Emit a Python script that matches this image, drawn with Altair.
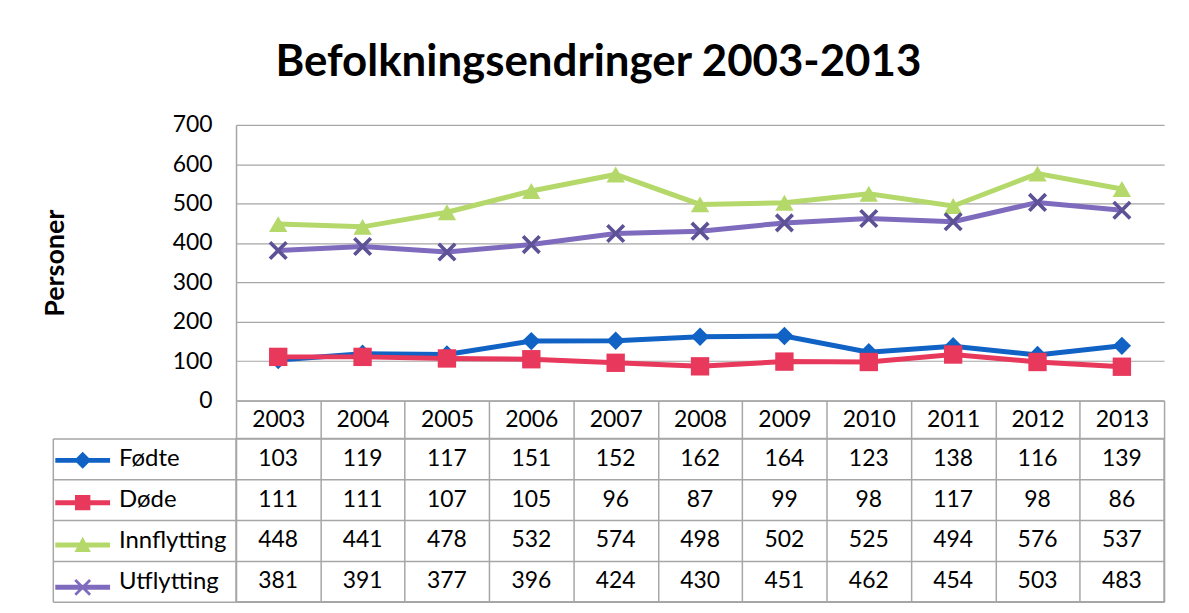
import altair as alt
import pandas as pd

# ---------------- data ----------------
years = ["2003", "2004", "2005", "2006", "2007", "2008", "2009", "2010", "2011", "2012", "2013"]
series = ["Fødte", "Døde", "Innflytting", "Utflytting"]
fodte = [103, 119, 117, 151, 152, 162, 164, 123, 138, 116, 139]
dode = [111, 111, 107, 105, 96, 87, 99, 98, 117, 98, 86]
innflytting = [448, 441, 478, 532, 574, 498, 502, 525, 494, 576, 537]
utflytting = [381, 391, 377, 396, 424, 430, 451, 462, 454, 503, 483]
y_ticks = [0, 100, 200, 300, 400, 500, 600, 700]

rows = []
for s, vals in zip(series, [fodte, dode, innflytting, utflytting]):
    for yr, v in zip(years, vals):
        rows.append({"År": yr, "Serie": s, "Personer": v})
df = pd.DataFrame(rows)

# ---------------- style ----------------
FONT = "Lato"
GRID = "#A6A6A6"
FS = 23
colors = ["#1062C4", "#E8385C", "#B5D86A", "#7F6BBE"]
point_colors = ["#1062C4", "#E8385C", "#B5D86A", "#5E5296"]


def x_path(a, t):
    k = t / 2 ** 0.5
    p = [(-a + k, -a - k), (a + k, a - k), (a - k, a + k), (-a - k, -a + k)]
    q = [(-a + k, a + k), (-a - k, a - k), (a - k, -a - k), (a + k, -a + k)]
    f = lambda pts: "M" + "L".join(f"{x:.3f},{y:.3f}" for x, y in pts) + "Z"
    return f(p) + f(q)


LINE = "M-1,-0.09H1V0.09H-1Z"
legend_paths = [
    LINE + "M0,-0.31L0.31,0L0,0.31L-0.31,0Z",
    LINE + "M-0.28,-0.28H0.28V0.28H-0.28Z",
    LINE + "M0,-0.3L0.3,0.26L-0.3,0.26Z",
    LINE + x_path(0.27, 0.05),
]
point_shapes = ["diamond", "square", "triangle-up", x_path(0.9, 0.2)]

# ---------------- top: line chart ----------------
x_top = alt.X(
    "År:O",
    scale=alt.Scale(type="band", paddingInner=0, paddingOuter=0),
    axis=alt.Axis(
        title=None, orient="bottom", tickBand="extent", ticks=True, tickSize=38,
        tickColor=GRID, tickWidth=1.5, domain=True, domainColor=GRID, domainWidth=1.5,
        labelFont=FONT, labelFontSize=FS, labelColor="black", labelBaseline="middle",
        labelPadding=-19, labelAngle=0, grid=False,
    ),
)
y_top = alt.Y(
    "Personer:Q",
    scale=alt.Scale(domain=[0, 700], nice=False),
    axis=alt.Axis(
        values=y_ticks, title="Personer", titleFont=FONT, titleFontSize=27,
        titleFontWeight="bold", titleColor="black", titlePadding=103,
        labelFont=FONT, labelFontSize=FS, labelColor="black", labelPadding=24,
        ticks=False, domain=True, domainColor=GRID, domainWidth=1.5,
        grid=True, gridColor=GRID, gridWidth=1.2,
    ),
)
base_top = alt.Chart(df)
lines = base_top.mark_line(strokeWidth=5).encode(
    x=x_top, y=y_top,
    color=alt.Color("Serie:N", scale=alt.Scale(domain=series, range=colors), legend=None),
)
points = base_top.mark_point(filled=True, size=340, opacity=1).encode(
    x=x_top, y=y_top,
    color=alt.Color("Serie:N", scale=alt.Scale(domain=series, range=point_colors), legend=None),
    shape=alt.Shape("Serie:N", scale=alt.Scale(domain=series, range=point_shapes), legend=None),
)
top = alt.layer(lines, points).resolve_scale(color="independent").properties(
    width=932, height=277, view=alt.ViewBackground(stroke="transparent")
)

# ---------------- bottom: data table ----------------
x_b = alt.X(
    "År:O",
    scale=alt.Scale(type="band", paddingInner=0, paddingOuter=0),
    axis=alt.Axis(title=None, orient="top", labels=False, ticks=False, domain=False,
                  grid=True, tickBand="extent", gridColor=GRID, gridWidth=1.5),
)
y_b = alt.Y(
    "Serie:N",
    sort=series,
    scale=alt.Scale(domain=series, paddingInner=0, paddingOuter=0),
    axis=alt.Axis(
        title=None, orient="right", offset=-1116, tickBand="extent", ticks=True,
        tickSize=184, tickColor=GRID, tickWidth=1.5, domain=True, domainColor=GRID,
        domainWidth=1.5, grid=True, gridColor=GRID, gridWidth=1.5,
        labelFont=FONT, labelFontSize=24, labelColor="black", labelPadding=-118,
        labelAlign="left", labelBaseline="middle",
    ),
)
leg = alt.Legend(
    title=None, orient="none", legendX=-181.5, legendY=-5.5, direction="vertical",
    symbolSize=3025, symbolStrokeWidth=0, rowPadding=3.5, padding=0,
    labelExpr="''", labelFontSize=22, symbolOpacity=1,
)
base_b = alt.Chart(df)
table_text = base_b.mark_text(font=FONT, fontSize=FS, color="black").encode(
    x=x_b, y=y_b, text="Personer:Q"
)
legend_layer = base_b.transform_filter("false").mark_point(filled=True, size=3025, opacity=1).encode(
    color=alt.Color("Serie:N", scale=alt.Scale(domain=series, range=colors), legend=leg),
    shape=alt.Shape("Serie:N", scale=alt.Scale(domain=series, range=legend_paths), legend=leg),
)
bottom = alt.layer(table_text, legend_layer).properties(
    width=932, height=164, view=alt.ViewBackground(stroke=GRID, strokeWidth=1.5)
)

chart = alt.vconcat(top, bottom, spacing=38, bounds="flush").resolve_scale(
    color="independent", shape="independent"
).resolve_legend(
    color="independent", shape="independent"
).properties(
    title=alt.TitleParams(
        "Befolkningsendringer 2003-2013", font=FONT, fontSize=44, fontWeight="bold",
        color="black", anchor="middle", offset=28, dx=-5,
    ),
    padding={"left": 33, "top": 32, "right": 15, "bottom": 5},
).configure(font=FONT)

chart.save("out.html", embed_options={"renderer": "svg", "actions": False})
